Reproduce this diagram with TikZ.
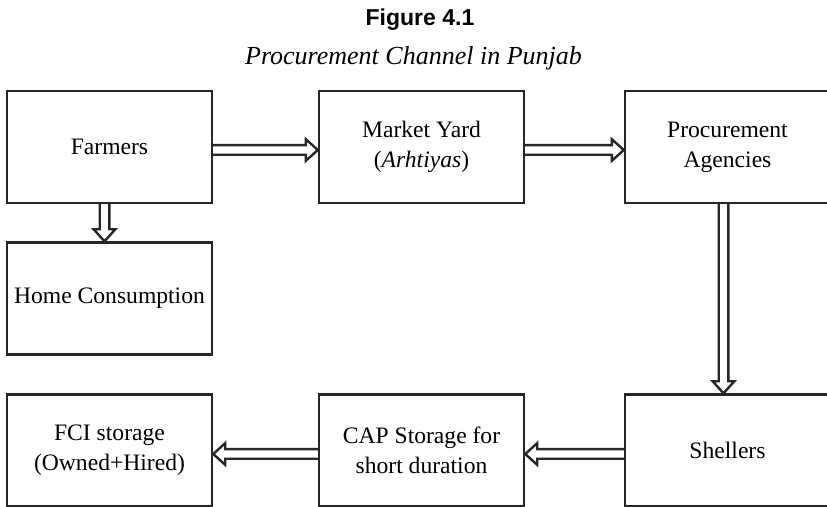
\documentclass[tikz,border=0pt]{standalone}
\usepackage{fontspec}
\setmainfont{Liberation Serif}
\setsansfont{Liberation Sans}
\usetikzlibrary{calc,positioning}

\begin{document}
\begin{tikzpicture}[x=0.5pt, y=-0.5pt,
  box/.style={rectangle, draw=black!85, line width=1.2pt, minimum width=102.5pt,
              minimum height=56pt, inner sep=2pt, align=center,
              font=\fontsize{11.8}{15}\selectfont},
  blk/.style={draw=black!85, line width=1.2pt, to path={
      let \p1=(\tikztostart), \p2=(\tikztotarget),
          \n1={atan2(\y2-\y1,\x2-\x1)}, \n2={veclen(\x2-\x1,\y2-\y1)} in
      [shift={(\p1)}, rotate=\n1]
      (0pt,2.4pt) -- ({\n2-6pt},2.4pt) -- ({\n2-6pt},5.4pt) -- (\n2,0pt)
      -- ({\n2-6pt},-5.4pt) -- ({\n2-6pt},-2.4pt) -- (0pt,-2.4pt)}}
]
  \useasboundingbox (0,0) rectangle (827,507);
  \node[anchor=base, font=\sffamily\bfseries\fontsize{11.5}{14}\selectfont] (fig) at (420,26) {Figure 4.1};
  \node[anchor=base, font=\itshape\fontsize{13}{16}\selectfont] (title) at (413.5,65) {Procurement Channel in Punjab};

  \node[box] (farm)   at (109.5,147)   {Farmers};
  \node[box] (market) at (421.5,147)   {Market Yard\\(\textit{Arhtiyas})};
  \node[box] (agency) at (727.5,147)   {Procurement\\Agencies};
  \node[box] (home)   at (109.5,298.5) {Home Consumption};
  \node[box] (fci)    at (109.5,450.5) {FCI storage\\(Owned+Hired)};
  \node[box] (cap)    at (421.5,450.5) {CAP Storage for\\short duration};
  \node[box] (shell)  at (727.5,450.5) {Shellers};

  \draw[blk] ([yshift=-1.5pt]farm.east) to ([yshift=-1.5pt]market.west);
  \draw[blk] ([yshift=-1.5pt]market.east) to ([yshift=-1.5pt]agency.west);
  \draw[blk] ([xshift=-2.5pt]farm.south) to ([xshift=-2.5pt]home.north);
  \draw[blk] ([xshift=-2pt]agency.south) to ([xshift=-2pt]shell.north);
  \draw[blk] ([yshift=-1.75pt]shell.west) to ([yshift=-1.75pt]cap.east);
  \draw[blk] ([yshift=-1.75pt]cap.west) to ([yshift=-1.75pt]fci.east);
\end{tikzpicture}
\end{document}
